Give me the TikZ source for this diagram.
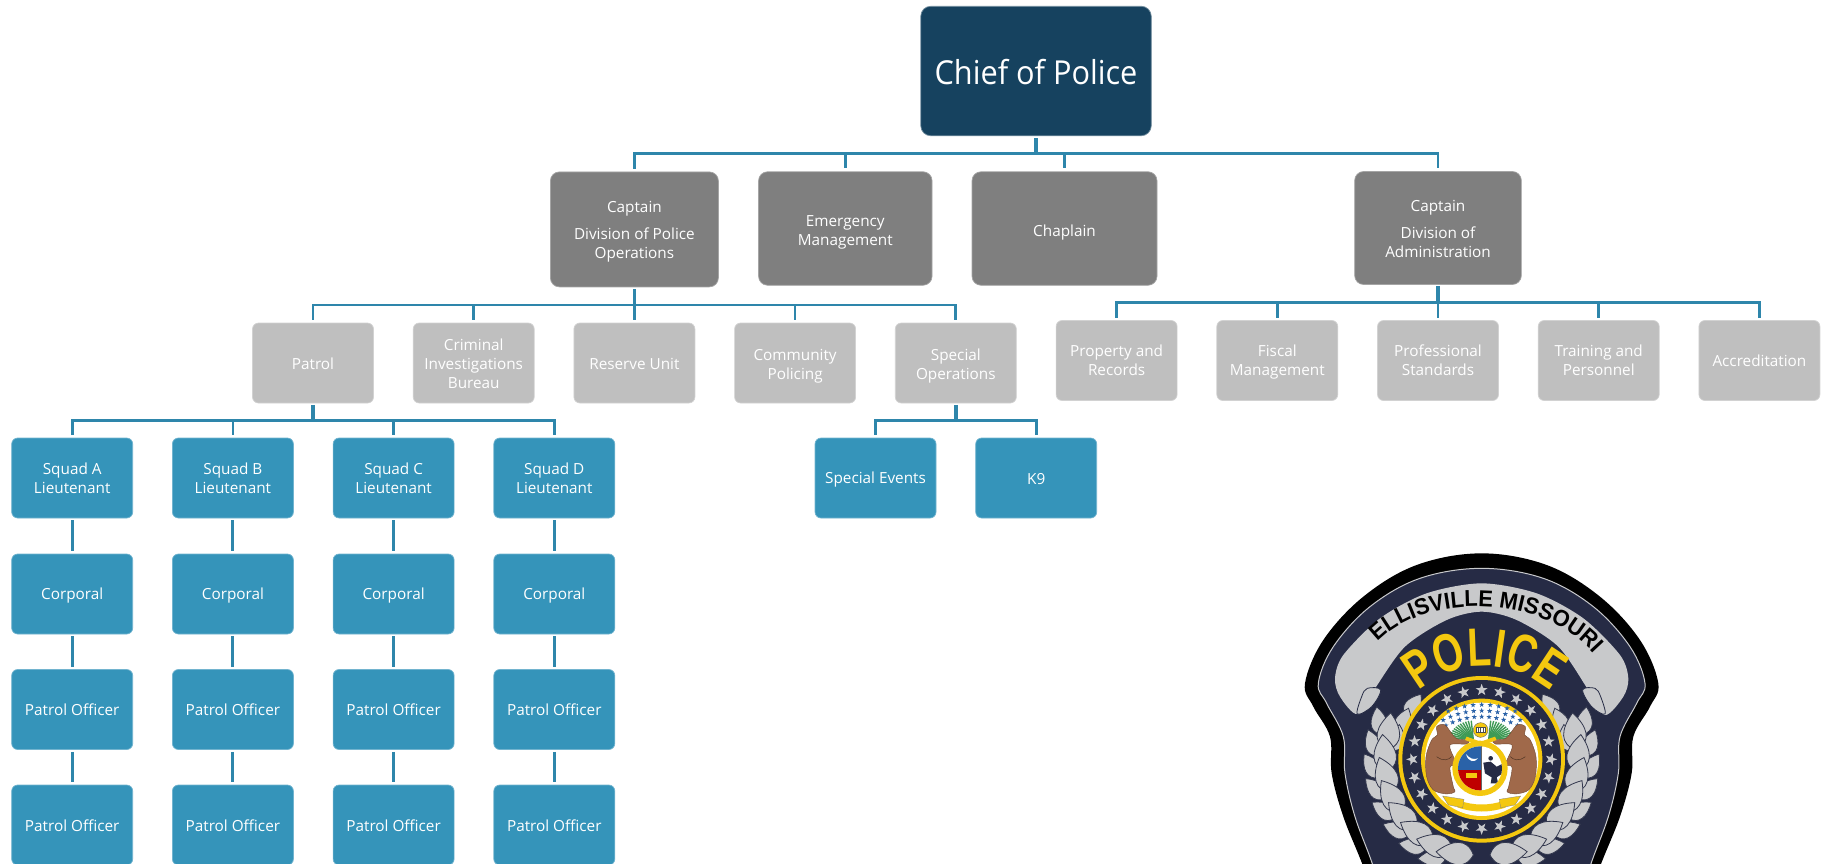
\documentclass[tikz,border=0pt]{standalone}
\usepackage{fontspec}
\setmainfont{Open Sans}
\newfontfamily\chieffont[FakeStretch=0.93]{Open Sans}
\newfontfamily\badgefont[FakeStretch=0.95]{Liberation Sans}
\newfontfamily\policefont[FakeStretch=0.72]{Liberation Sans}
\usetikzlibrary{shapes.geometric,decorations.text,calc}
\definecolor{chiefc}{HTML}{16425F}
\definecolor{capc}{HTML}{7F7F7F}
\definecolor{lightc}{HTML}{BFBFBF}
\definecolor{bluec}{HTML}{3594BA}
\definecolor{linec}{HTML}{2E86AB}
\definecolor{navyb}{HTML}{262B45}
\definecolor{grayb}{HTML}{C8C9CB}
\definecolor{yelb}{HTML}{F4C80F}
\definecolor{brownb}{HTML}{A0694A}
\definecolor{pineb}{HTML}{3E9A55}
\definecolor{sealblue}{HTML}{2A62A8}
\def\toph{15pt}
\newcommand\fst[1]{\rule{0pt}{#1pt}}
\tikzset{
  boxbase/.style={rounded corners=6pt,align=center,text=white,inner sep=0pt,line width=.7pt,font=\fontsize{15.3}{19}\selectfont,
    execute at begin node={\rule{0pt}{\toph}},execute at end node={\rule[-3pt]{0pt}{3pt}}},
  chiefbox/.style={rounded corners=10pt,align=center,text=white,inner sep=0pt,line width=.7pt,fill=chiefc,draw=chiefc!60!white,minimum width=230.5pt,minimum height=129.5pt,font=\fontsize{33}{40}\chieffont,execute at begin node={\rule{0pt}{27pt}}},
  capbox/.style={boxbase,fill=capc,draw=capc!70!white,rounded corners=9pt},
  captwo/.style={capbox,/utils/exec={\def\toph{20pt}}},
  graybox/.style={boxbase,fill=lightc,draw=lightc!70!white,minimum width=121pt,minimum height=80pt},
  bluebox/.style={boxbase,fill=bluec,draw=bluec!70!white,minimum width=121pt,minimum height=80pt},
  bus/.style={draw=linec,line width=2.7pt},
  stem/.style={draw=linec,line width=3pt},
  bleaf/.style={fill=grayb,draw=navyb!85!gray,line width=.8pt},
  ringstar/.style={star,star points=5,star point ratio=2.5,fill=#1,inner sep=0pt,outer sep=0pt,minimum size=12.5pt},
  bluestar/.style={star,star points=5,star point ratio=2.5,fill=#1,inner sep=0pt,outer sep=0pt,minimum size=5.5pt},
}
\newcommand\lrow[5]{% radius, tilt, angle list, leaf length, half width
  \foreach \a in {#3}{
    \pgfmathsetmacro\lxa{605+#1*cos(\a)}
    \pgfmathsetmacro\lya{660-#1*sin(\a)}
    \pgfmathsetmacro\lxb{605-#1*cos(\a)}
    \pgfmathsetmacro\rota{\a-90+#2}
    \pgfmathsetmacro\rotb{180-\rota}
    \path[bleaf,shift={(\lxa,\lya)},rotate=\rota] (0,0) .. controls (#4*.2,-#5) and (#4*.6,-#5*.8) .. (#4,0) .. controls (#4*.6,#5*.8) and (#4*.2,#5) .. (0,0);
    \path[bleaf,shift={(\lxb,\lya)},rotate=\rotb] (0,0) .. controls (#4*.2,-#5) and (#4*.6,-#5*.8) .. (#4,0) .. controls (#4*.6,#5*.8) and (#4*.2,#5) .. (0,0);
  }
}
\begin{document}
\begin{tikzpicture}[x=1pt,y=-1pt]
\useasboundingbox (0,0) rectangle (1828,863);
\begin{scope}
\clip (0,0) rectangle (1828,863);

% ---- badge -------------------------------------------------
\begin{scope}[x=.33333pt,y=-.33333pt,shift={(3840,1620)}]
\fill[black] plot[smooth cycle,tension=.6] coordinates {(605,40) (800,75) (960,170) (1080,300) (1135,430) (1110,500) (1060,590) (1055,700) (1020,830) (960,980) (900,1150) (310,1150) (250,980) (190,830) (155,700) (150,590) (100,500) (75,430) (130,300) (250,170) (410,75)};
\filldraw[fill=navyb,draw=grayb,line width=1pt] plot[smooth cycle,tension=.6] coordinates {(605,85) (790,115) (940,200) (1050,320) (1095,430) (1070,490) (1020,590) (1015,700) (985,830) (930,980) (880,1150) (330,1150) (280,980) (225,830) (195,700) (190,590) (140,490) (115,430) (160,320) (270,200) (420,115)};
% scroll
\fill[grayb] plot[smooth cycle,tension=.5] coordinates {(165,415) (190,345) (300,235) (440,160) (605,130) (770,160) (910,235) (1020,345) (1045,415) (1030,470) (975,525) (925,450) (835,320) (710,240) (605,215) (500,240) (375,320) (285,445) (232,522) (180,470)};
\filldraw[fill=grayb,draw=navyb,line width=.8pt] plot[smooth cycle,tension=.6] coordinates {(302,450) (275,500) (232,522) (245,470) (262,445)};
\filldraw[fill=grayb,draw=navyb,line width=.8pt] plot[smooth cycle,tension=.6] coordinates {(908,450) (935,500) (975,522) (962,470) (945,445)};
% wreath
\lrow{262}{-4}{150,162,174}{80}{36}
\lrow{312}{22}{166,178,190,202,214,226,238,250}{85}{36}
\lrow{286}{0}{174,187,200,213,226,239,252,265}{112}{50}
% seal
\fill[yelb] (605,658) circle[radius=250];
\fill[navyb] (605,658) circle[radius=238];
\foreach \i in {0,...,23}{
  \pgfmathsetmacro\sx{605+208*cos(15*\i+90)}
  \pgfmathsetmacro\sy{658-208*sin(15*\i+90)}
  \pgfmathsetmacro\sr{15*\i}
  \node (rs\i) [ringstar=grayb,rotate=\sr] at (\sx,\sy) {};
}
\fill[yelb] (605,658) circle[radius=182];
\fill[white] (605,658) circle[radius=170];
% blue stars
\foreach \r/\n/\st in {268/9/5.5,250/11/5.5,232/11/5.5}{
  \foreach \k in {1,...,\n}{
    \pgfmathsetmacro\ang{90+(\k-(\n+1)/2)*\st}
    \pgfmathsetmacro\sx{605+\r*cos(\ang)}
    \pgfmathsetmacro\sy{762-\r*sin(\ang)}
    \node (bs\r-\k) [bluestar=sealblue] at (\sx,\sy) {};
  }
}
% pine
\foreach \t in {8,15,...,85}{
  \draw[pineb,line width=1.4pt] (580,600) -- ({580-72*cos(\t)},{600-58*sin(\t)});
  \draw[pineb,line width=1.4pt] (626,600) -- ({626+72*cos(\t)},{600-58*sin(\t)});
}
% bears
\filldraw[fill=brownb,draw=brownb!70!black,line width=.4pt] plot[smooth cycle,tension=.55] coordinates {(470,560) (495,555) (528,595) (565,600) (560,612) (510,615) (525,660) (532,675) (510,682) (520,740) (525,755) (500,762) (460,750) (440,710) (438,650) (455,600) (472,585)};
\filldraw[fill=brownb,draw=brownb!70!black,line width=.4pt] plot[smooth cycle,tension=.55] coordinates {(736,560) (711,555) (678,595) (641,600) (646,612) (696,615) (681,660) (674,675) (696,682) (686,740) (681,755) (706,762) (746,750) (766,710) (768,650) (751,600) (734,585)};
\draw[brownb!50!black,line width=.5pt] (470,650) .. controls (490,665) and (505,660) .. (515,650);
\draw[brownb!50!black,line width=.5pt] (736,650) .. controls (716,665) and (701,660) .. (691,650);
% shield
\fill[yelb] (600,685) circle[radius=83];
\fill[white] (600,685) circle[radius=66];
\begin{scope}
\clip (600,685) circle[radius=66];
\fill[sealblue] (530,610) rectangle (605,682);
\fill[red!75!black] (530,682) rectangle (605,760);
\fill[sealblue] (530,682) rectangle (605,690);
\draw[black!60,line width=.6pt] (605,615) -- (605,750);
\fill[yelb] (557,700) rectangle (590,714);
\fill[white] (558,642) .. controls (565,668) and (585,668) .. (594,655) .. controls (582,660) and (568,656) .. (558,642);
% eagle
\fill[navyb] (632,665) -- (650,680) -- (675,668) -- (668,700) -- (650,712) -- (655,730) -- (632,730) -- (635,712) -- (615,700) -- (610,668) -- cycle;
\fill[navyb] (632,655) circle[radius=7];
\end{scope}
% helmet + crossing
\fill[yelb] (560,590) -- (602,605) -- (645,590) -- (650,600) -- (602,618) -- (555,600) -- cycle;
\filldraw[fill=yelb,draw=black!60,line width=.4pt] (602,570) circle[radius=22];
\fill[white] (588,562) rectangle (616,578);
\draw[black!70,line width=.7pt] (588,562) rectangle (616,578) (595,562) -- (595,578) (602,562) -- (602,578) (609,562) -- (609,578);
% motto scroll
\draw[yelb,line width=7pt] (535,792) .. controls (580,808) and (630,808) .. (675,792);
\filldraw[fill=yelb,draw=black!50,line width=.3pt] (488,768) -- (552,778) -- (548,803) -- (505,795) -- cycle;
\filldraw[fill=yelb,draw=black!50,line width=.3pt] (722,768) -- (658,778) -- (662,803) -- (705,795) -- cycle;
% lettering
\path[decorate,decoration={text along path,text align={align=center},text={|\fontsize{23}{23}\badgefont\bfseries\color{black}|ELLISVILLE MISSOURI}}] (262,345) .. controls (390,145) and (820,145) .. (972,380);
\path[decorate,decoration={text along path,text align={align=center},text={|\fontsize{54}{54}\policefont\bfseries\color{yelb}|POLICE}}] (392,475) .. controls (517,345) and (707,345) .. (837,475);
\end{scope}

% ---- nodes -------------------------------------------------
\node (chief) [chiefbox] at (1036,71) {Chief of Police};
\node (capa) [capbox,minimum width=168pt,minimum height=115pt] at (634.4,229.4) {\fst{16}Captain\\[8pt]Division of Police\\Operations};
\node (em) [capbox,minimum width=173.5pt,minimum height=113.5pt] at (845.3,228.5) {\fst{19}Emergency\\Management};
\node (chap) [captwo,minimum width=185pt,minimum height=113.5pt] at (1064.5,228.5) {Chaplain};
\node (capb) [capbox,minimum width=166.7pt,minimum height=113pt] at (1438,228) {\fst{16}Captain\\[8pt]Division of\\Administration};

\node (patrol) [graybox] at (313,363) {Patrol};
\node (cib) [graybox] at (473.7,363) {\fst{15}Criminal\\Investigations\\Bureau};
\node (reserve) [graybox] at (634.4,363) {Reserve Unit};
\node (comm) [graybox] at (795.1,363) {\fst{17}Community\\Policing};
\node (spec) [graybox] at (955.8,363) {\fst{17}Special\\Operations};

\node (prop) [graybox] at (1116.6,360.5) {\fst{14}Property and\\Records};
\node (fiscal) [graybox] at (1277.3,360.5) {\fst{14}Fiscal\\Management};
\node (prof) [graybox] at (1438,360.5) {\fst{14}Professional\\Standards};
\node (train) [graybox] at (1598.7,360.5) {\fst{14}Training and\\Personnel};
\node (accr) [graybox] at (1759.4,360.5) {Accreditation};

\node (evts) [bluebox] at (875.5,478) {Special Events};
\node (knine) [bluebox] at (1036.2,478) {K9};

\foreach \s/\cx/\lt in {a/72.2/A,b/232.9/B,c/393.6/C,d/554.3/D}{
  \node (sq\s) [bluebox] at (\cx,478) {\fst{14}Squad \lt\\Lieutenant};
  \node (co\s) [bluebox] at (\cx,594) {Corporal};
  \node (po\s) [bluebox] at (\cx,709.5) {Patrol Officer};
  \node (pp\s) [bluebox] at (\cx,825) {Patrol Officer};
  \draw[stem,shorten <=2pt,shorten >=2.5pt] (sq\s) -- (co\s);
  \draw[stem,shorten <=2pt,shorten >=2.5pt] (co\s) -- (po\s);
  \draw[stem,shorten <=2pt,shorten >=2.5pt] (po\s) -- (pp\s);
}

% ---- connectors --------------------------------------------
\coordinate (b1) at (1036,153.7);
\draw[stem,shorten <=2pt,line width=3.4pt] (chief.south) -- (b1);
\foreach \t in {capa,em,chap,capb}{\draw[bus,shorten >=3pt] (b1) -| (\t.north);}
\coordinate (b2) at (634.4,305);
\draw[stem,shorten <=2pt,line width=3.4pt] (capa.south) -- (b2);
\foreach \t in {patrol,cib,reserve,comm,spec}{\draw[bus,shorten >=2.5pt] (b2) -| (\t.north);}
\coordinate (b3) at (1438,302.7);
\draw[stem,shorten <=1.5pt,line width=3.4pt] (capb.south) -- (b3);
\foreach \t in {prop,fiscal,prof,train,accr}{\draw[bus,shorten >=2.5pt] (b3) -| (\t.north);}
\coordinate (b4) at (313,420.7);
\draw[stem,shorten <=1.5pt,line width=3.4pt] (patrol.south) -- (b4);
\foreach \t in {sqa,sqb,sqc,sqd}{\draw[bus,shorten >=2.5pt] (b4) -| (\t.north);}
\coordinate (b5) at (955.8,420.7);
\draw[stem,shorten <=1.5pt,line width=3.4pt] (spec.south) -- (b5);
\foreach \t in {evts,knine}{\draw[bus,shorten >=2.5pt] (b5) -| (\t.north);}
\end{scope}
\end{tikzpicture}
\end{document}
